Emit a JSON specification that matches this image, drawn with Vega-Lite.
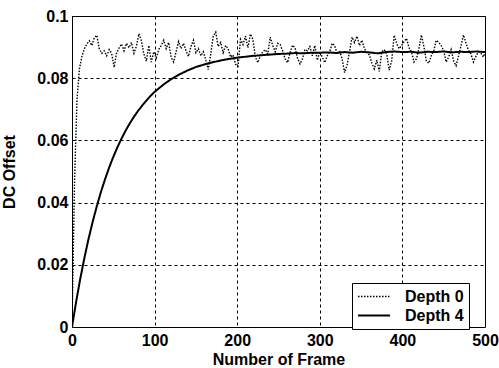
{
  "$schema": "https://vega.github.io/schema/vega-lite/v6.json",
  "width": 413,
  "height": 311,
  "autosize": {"type": "none"},
  "padding": {"left": 72, "top": 16, "right": 14, "bottom": 41},
  "background": "white",
  "config": {
    "view": {"stroke": "black", "strokeWidth": 1},
    "font": "Liberation Sans",
    "axis": {
      "labelFont": "Liberation Sans",
      "labelFontSize": 16,
      "labelFontWeight": "bold",
      "labelColor": "black",
      "titleFont": "Liberation Sans",
      "titleFontSize": 16,
      "titleFontWeight": "bold",
      "titleColor": "black",
      "domain": false,
      "ticks": false,
      "grid": true,
      "gridColor": "black",
      "gridDash": [3, 3],
      "gridWidth": 1,
      "gridOpacity": 1
    },
    "legend": {
      "labelFont": "Liberation Sans",
      "labelFontSize": 16,
      "labelFontWeight": "bold",
      "labelColor": "black"
    }
  },
  "data": {
    "values": [
      {"f":0,"v":0,"s":"Depth 0"},{"f":3,"v":0.046,"s":"Depth 0"},{"f":6,"v":0.073,"s":"Depth 0"},{"f":9,"v":0.083,"s":"Depth 0"},{"f":12,"v":0.087,"s":"Depth 0"},{"f":15,"v":0.0895,"s":"Depth 0"},{"f":18,"v":0.091,"s":"Depth 0"},{"f":21,"v":0.092,"s":"Depth 0"},{"f":24,"v":0.0905,"s":"Depth 0"},{"f":27,"v":0.093,"s":"Depth 0"},{"f":30,"v":0.0938,"s":"Depth 0"},{"f":33,"v":0.0895,"s":"Depth 0"},{"f":36,"v":0.088,"s":"Depth 0"},{"f":39,"v":0.0888,"s":"Depth 0"},{"f":42,"v":0.0872,"s":"Depth 0"},{"f":45,"v":0.0892,"s":"Depth 0"},{"f":48,"v":0.088,"s":"Depth 0"},{"f":51,"v":0.0835,"s":"Depth 0"},{"f":54,"v":0.0882,"s":"Depth 0"},{"f":57,"v":0.0897,"s":"Depth 0"},{"f":60,"v":0.091,"s":"Depth 0"},{"f":63,"v":0.0888,"s":"Depth 0"},{"f":66,"v":0.0912,"s":"Depth 0"},{"f":69,"v":0.0898,"s":"Depth 0"},{"f":72,"v":0.0915,"s":"Depth 0"},{"f":75,"v":0.088,"s":"Depth 0"},{"f":78,"v":0.0903,"s":"Depth 0"},{"f":81,"v":0.0943,"s":"Depth 0"},{"f":84,"v":0.092,"s":"Depth 0"},{"f":87,"v":0.0878,"s":"Depth 0"},{"f":90,"v":0.0855,"s":"Depth 0"},{"f":93,"v":0.0905,"s":"Depth 0"},{"f":96,"v":0.0852,"s":"Depth 0"},{"f":99,"v":0.0885,"s":"Depth 0"},{"f":102,"v":0.0865,"s":"Depth 0"},{"f":105,"v":0.0892,"s":"Depth 0"},{"f":108,"v":0.0905,"s":"Depth 0"},{"f":111,"v":0.0922,"s":"Depth 0"},{"f":114,"v":0.0895,"s":"Depth 0"},{"f":117,"v":0.0915,"s":"Depth 0"},{"f":120,"v":0.0868,"s":"Depth 0"},{"f":123,"v":0.0852,"s":"Depth 0"},{"f":126,"v":0.0885,"s":"Depth 0"},{"f":129,"v":0.0918,"s":"Depth 0"},{"f":132,"v":0.0895,"s":"Depth 0"},{"f":135,"v":0.0912,"s":"Depth 0"},{"f":138,"v":0.0888,"s":"Depth 0"},{"f":141,"v":0.087,"s":"Depth 0"},{"f":144,"v":0.0902,"s":"Depth 0"},{"f":147,"v":0.0922,"s":"Depth 0"},{"f":150,"v":0.0882,"s":"Depth 0"},{"f":153,"v":0.0895,"s":"Depth 0"},{"f":156,"v":0.0872,"s":"Depth 0"},{"f":159,"v":0.0885,"s":"Depth 0"},{"f":162,"v":0.0858,"s":"Depth 0"},{"f":165,"v":0.0828,"s":"Depth 0"},{"f":168,"v":0.0878,"s":"Depth 0"},{"f":171,"v":0.0935,"s":"Depth 0"},{"f":174,"v":0.0948,"s":"Depth 0"},{"f":177,"v":0.0902,"s":"Depth 0"},{"f":180,"v":0.0915,"s":"Depth 0"},{"f":183,"v":0.0882,"s":"Depth 0"},{"f":186,"v":0.0905,"s":"Depth 0"},{"f":189,"v":0.0895,"s":"Depth 0"},{"f":192,"v":0.0868,"s":"Depth 0"},{"f":195,"v":0.0875,"s":"Depth 0"},{"f":198,"v":0.0845,"s":"Depth 0"},{"f":201,"v":0.0838,"s":"Depth 0"},{"f":204,"v":0.0925,"s":"Depth 0"},{"f":207,"v":0.0908,"s":"Depth 0"},{"f":210,"v":0.0935,"s":"Depth 0"},{"f":213,"v":0.0898,"s":"Depth 0"},{"f":216,"v":0.0942,"s":"Depth 0"},{"f":219,"v":0.0925,"s":"Depth 0"},{"f":222,"v":0.0868,"s":"Depth 0"},{"f":225,"v":0.085,"s":"Depth 0"},{"f":228,"v":0.0872,"s":"Depth 0"},{"f":231,"v":0.0885,"s":"Depth 0"},{"f":234,"v":0.0892,"s":"Depth 0"},{"f":237,"v":0.0878,"s":"Depth 0"},{"f":240,"v":0.0932,"s":"Depth 0"},{"f":243,"v":0.0905,"s":"Depth 0"},{"f":246,"v":0.0885,"s":"Depth 0"},{"f":249,"v":0.0912,"s":"Depth 0"},{"f":252,"v":0.0908,"s":"Depth 0"},{"f":255,"v":0.0888,"s":"Depth 0"},{"f":258,"v":0.0862,"s":"Depth 0"},{"f":261,"v":0.085,"s":"Depth 0"},{"f":264,"v":0.0882,"s":"Depth 0"},{"f":267,"v":0.0906,"s":"Depth 0"},{"f":270,"v":0.0898,"s":"Depth 0"},{"f":273,"v":0.0865,"s":"Depth 0"},{"f":276,"v":0.0846,"s":"Depth 0"},{"f":279,"v":0.0862,"s":"Depth 0"},{"f":282,"v":0.0892,"s":"Depth 0"},{"f":285,"v":0.0888,"s":"Depth 0"},{"f":288,"v":0.0902,"s":"Depth 0"},{"f":291,"v":0.0872,"s":"Depth 0"},{"f":294,"v":0.0905,"s":"Depth 0"},{"f":297,"v":0.0858,"s":"Depth 0"},{"f":300,"v":0.0885,"s":"Depth 0"},{"f":303,"v":0.0868,"s":"Depth 0"},{"f":306,"v":0.085,"s":"Depth 0"},{"f":309,"v":0.0872,"s":"Depth 0"},{"f":312,"v":0.0885,"s":"Depth 0"},{"f":315,"v":0.0912,"s":"Depth 0"},{"f":318,"v":0.0905,"s":"Depth 0"},{"f":321,"v":0.0878,"s":"Depth 0"},{"f":324,"v":0.0888,"s":"Depth 0"},{"f":327,"v":0.0862,"s":"Depth 0"},{"f":330,"v":0.0818,"s":"Depth 0"},{"f":333,"v":0.0842,"s":"Depth 0"},{"f":336,"v":0.0885,"s":"Depth 0"},{"f":339,"v":0.0932,"s":"Depth 0"},{"f":342,"v":0.0915,"s":"Depth 0"},{"f":345,"v":0.0935,"s":"Depth 0"},{"f":348,"v":0.0905,"s":"Depth 0"},{"f":351,"v":0.0922,"s":"Depth 0"},{"f":354,"v":0.0895,"s":"Depth 0"},{"f":357,"v":0.0882,"s":"Depth 0"},{"f":360,"v":0.0875,"s":"Depth 0"},{"f":363,"v":0.0848,"s":"Depth 0"},{"f":366,"v":0.083,"s":"Depth 0"},{"f":369,"v":0.0858,"s":"Depth 0"},{"f":372,"v":0.0822,"s":"Depth 0"},{"f":375,"v":0.0885,"s":"Depth 0"},{"f":378,"v":0.0892,"s":"Depth 0"},{"f":381,"v":0.0878,"s":"Depth 0"},{"f":384,"v":0.0826,"s":"Depth 0"},{"f":387,"v":0.0855,"s":"Depth 0"},{"f":390,"v":0.0938,"s":"Depth 0"},{"f":393,"v":0.0912,"s":"Depth 0"},{"f":396,"v":0.0895,"s":"Depth 0"},{"f":399,"v":0.0905,"s":"Depth 0"},{"f":402,"v":0.0918,"s":"Depth 0"},{"f":405,"v":0.0928,"s":"Depth 0"},{"f":408,"v":0.0898,"s":"Depth 0"},{"f":411,"v":0.0885,"s":"Depth 0"},{"f":414,"v":0.0852,"s":"Depth 0"},{"f":417,"v":0.0862,"s":"Depth 0"},{"f":420,"v":0.0895,"s":"Depth 0"},{"f":423,"v":0.0939,"s":"Depth 0"},{"f":426,"v":0.0902,"s":"Depth 0"},{"f":429,"v":0.0855,"s":"Depth 0"},{"f":432,"v":0.0848,"s":"Depth 0"},{"f":435,"v":0.0872,"s":"Depth 0"},{"f":438,"v":0.0888,"s":"Depth 0"},{"f":441,"v":0.0922,"s":"Depth 0"},{"f":444,"v":0.0915,"s":"Depth 0"},{"f":447,"v":0.0905,"s":"Depth 0"},{"f":450,"v":0.0888,"s":"Depth 0"},{"f":453,"v":0.0852,"s":"Depth 0"},{"f":456,"v":0.0868,"s":"Depth 0"},{"f":459,"v":0.0892,"s":"Depth 0"},{"f":462,"v":0.0855,"s":"Depth 0"},{"f":465,"v":0.084,"s":"Depth 0"},{"f":468,"v":0.0872,"s":"Depth 0"},{"f":471,"v":0.0905,"s":"Depth 0"},{"f":474,"v":0.0939,"s":"Depth 0"},{"f":477,"v":0.0912,"s":"Depth 0"},{"f":480,"v":0.089,"s":"Depth 0"},{"f":483,"v":0.0878,"s":"Depth 0"},{"f":486,"v":0.0852,"s":"Depth 0"},{"f":489,"v":0.087,"s":"Depth 0"},{"f":492,"v":0.0885,"s":"Depth 0"},{"f":495,"v":0.088,"s":"Depth 0"},{"f":498,"v":0.0868,"s":"Depth 0"},{"f":500,"v":0.0882,"s":"Depth 0"},
      {"f":0,"v":0,"s":"Depth 4"},{"f":5,"v":0.0081,"s":"Depth 4"},{"f":10,"v":0.0155,"s":"Depth 4"},{"f":15,"v":0.0222,"s":"Depth 4"},{"f":20,"v":0.0283,"s":"Depth 4"},{"f":25,"v":0.0338,"s":"Depth 4"},{"f":30,"v":0.0388,"s":"Depth 4"},{"f":35,"v":0.0434,"s":"Depth 4"},{"f":40,"v":0.0475,"s":"Depth 4"},{"f":45,"v":0.0513,"s":"Depth 4"},{"f":50,"v":0.0547,"s":"Depth 4"},{"f":55,"v":0.0578,"s":"Depth 4"},{"f":60,"v":0.0606,"s":"Depth 4"},{"f":65,"v":0.0632,"s":"Depth 4"},{"f":70,"v":0.0655,"s":"Depth 4"},{"f":75,"v":0.0676,"s":"Depth 4"},{"f":80,"v":0.0695,"s":"Depth 4"},{"f":85,"v":0.0712,"s":"Depth 4"},{"f":90,"v":0.0728,"s":"Depth 4"},{"f":95,"v":0.0743,"s":"Depth 4"},{"f":100,"v":0.0756,"s":"Depth 4"},{"f":110,"v":0.0778,"s":"Depth 4"},{"f":120,"v":0.0797,"s":"Depth 4"},{"f":130,"v":0.0812,"s":"Depth 4"},{"f":140,"v":0.0825,"s":"Depth 4"},{"f":150,"v":0.0836,"s":"Depth 4"},{"f":160,"v":0.0844,"s":"Depth 4"},{"f":170,"v":0.0851,"s":"Depth 4"},{"f":180,"v":0.0857,"s":"Depth 4"},{"f":190,"v":0.0862,"s":"Depth 4"},{"f":200,"v":0.0866,"s":"Depth 4"},{"f":210,"v":0.0869,"s":"Depth 4"},{"f":220,"v":0.0872,"s":"Depth 4"},{"f":230,"v":0.0874,"s":"Depth 4"},{"f":240,"v":0.0876,"s":"Depth 4"},{"f":250,"v":0.0878,"s":"Depth 4"},{"f":260,"v":0.0879,"s":"Depth 4"},{"f":270,"v":0.0881,"s":"Depth 4"},{"f":280,"v":0.0880,"s":"Depth 4"},{"f":290,"v":0.0882,"s":"Depth 4"},{"f":300,"v":0.0882,"s":"Depth 4"},{"f":310,"v":0.0883,"s":"Depth 4"},{"f":320,"v":0.0881,"s":"Depth 4"},{"f":330,"v":0.0884,"s":"Depth 4"},{"f":340,"v":0.0882,"s":"Depth 4"},{"f":350,"v":0.0885,"s":"Depth 4"},{"f":360,"v":0.0883,"s":"Depth 4"},{"f":370,"v":0.0880,"s":"Depth 4"},{"f":380,"v":0.0884,"s":"Depth 4"},{"f":390,"v":0.0886,"s":"Depth 4"},{"f":400,"v":0.0884,"s":"Depth 4"},{"f":410,"v":0.0885,"s":"Depth 4"},{"f":420,"v":0.0882,"s":"Depth 4"},{"f":430,"v":0.0885,"s":"Depth 4"},{"f":440,"v":0.0884,"s":"Depth 4"},{"f":450,"v":0.0886,"s":"Depth 4"},{"f":460,"v":0.0883,"s":"Depth 4"},{"f":470,"v":0.0885,"s":"Depth 4"},{"f":480,"v":0.0884,"s":"Depth 4"},{"f":490,"v":0.0886,"s":"Depth 4"},{"f":500,"v":0.0884,"s":"Depth 4"}
    ]
  },
  "mark": {"type": "line", "color": "black", "clip": true},
  "encoding": {
    "x": {
      "field": "f", "type": "quantitative",
      "scale": {"domain": [0, 500], "nice": false},
      "axis": {"values": [0, 100, 200, 300, 400, 500], "title": "Number of Frame", "labelPadding": 5, "titleY": 32, "titleBaseline": "middle", "labelFlush": false}
    },
    "y": {
      "field": "v", "type": "quantitative",
      "scale": {"domain": [0, 0.1], "nice": false},
      "axis": {"values": [0, 0.02, 0.04, 0.06, 0.08, 0.1], "format": ".2~f", "title": "DC Offset", "labelPadding": 4, "titleX": -63, "titleBaseline": "middle", "labelFlush": false}
    },
    "strokeDash": {
      "field": "s", "type": "nominal",
      "scale": {"domain": ["Depth 0", "Depth 4"], "range": [[1.5, 1.5], [1, 0]]},
      "legend": {"title": null, "orient": "none", "legendX": 280, "legendY": 267, "symbolType": "stroke", "symbolSize": 1024, "symbolStrokeColor": "black", "symbolStrokeWidth": 1.5, "strokeColor": "black", "fillColor": "white", "padding": 5, "labelOffset": 14, "rowPadding": 2, "clipHeight": 17}
    },
    "strokeWidth": {
      "field": "s", "type": "nominal",
      "scale": {"domain": ["Depth 0", "Depth 4"], "range": [1.4, 2]},
      "legend": null
    }
  }
}
